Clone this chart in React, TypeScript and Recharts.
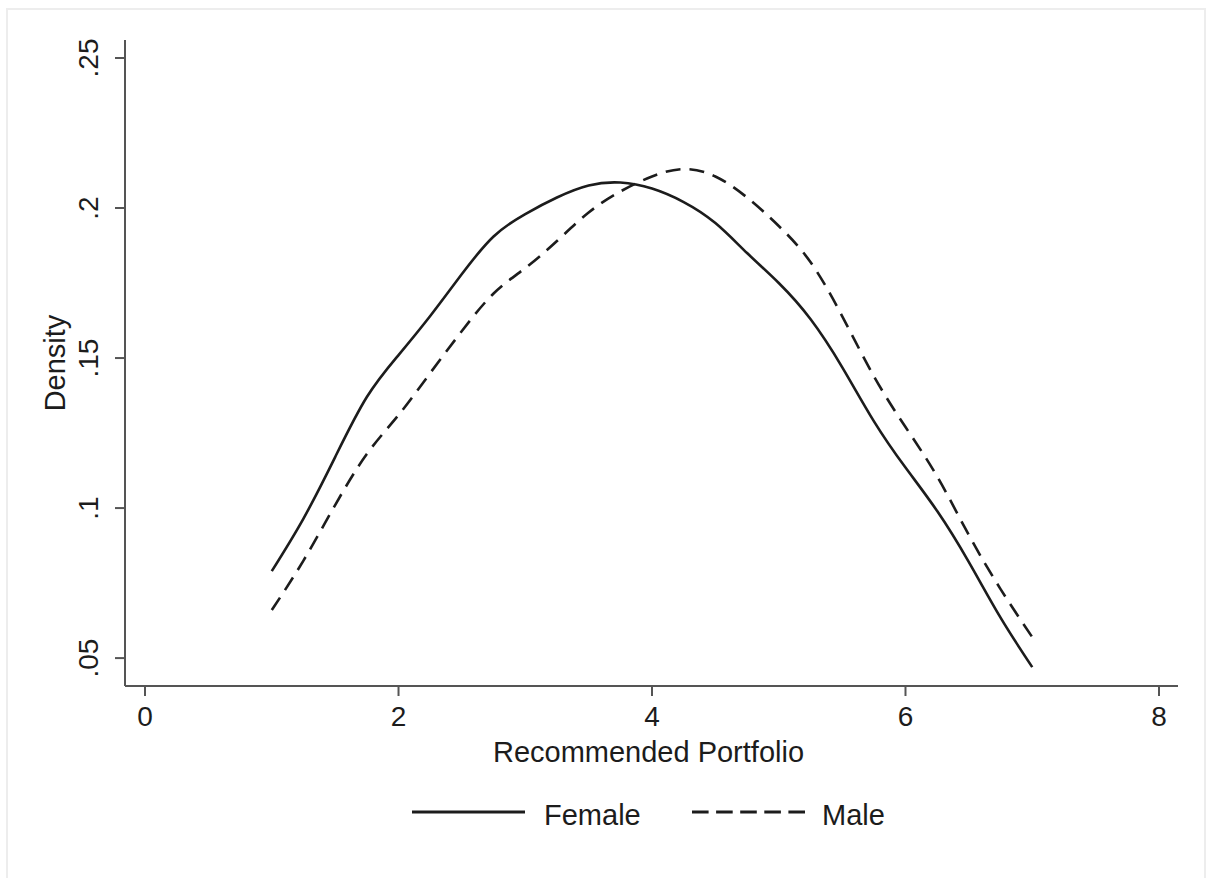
import React from 'react';
import { LineChart, Line, XAxis, YAxis, Legend, Label } from 'recharts';

const xValues = [1.0, 1.25, 1.5, 1.75, 2.0, 2.25, 2.5, 2.75, 3.0, 3.25, 3.5, 3.75, 4.0, 4.25, 4.5, 4.75, 5.0, 5.25, 5.5, 5.75, 6.0, 6.25, 6.5, 6.75, 7.0];
const femaleDensity = [0.079, 0.0965, 0.117, 0.137, 0.151, 0.164, 0.178, 0.1905, 0.198, 0.2035, 0.2075, 0.2085, 0.2065, 0.202, 0.195, 0.185, 0.175, 0.163, 0.147, 0.129, 0.1135, 0.099, 0.082, 0.0635, 0.047];
const maleDensity = [0.066, 0.0825, 0.101, 0.118, 0.131, 0.145, 0.159, 0.1715, 0.180, 0.189, 0.1985, 0.2055, 0.2105, 0.213, 0.2105, 0.2035, 0.194, 0.182, 0.164, 0.144, 0.127, 0.1105, 0.091, 0.073, 0.057];

const xTicks = [0, 2, 4, 6, 8];
const yTicks = [0.05, 0.1, 0.15, 0.2, 0.25];
const yTickLabels = ['.05', '.1', '.15', '.2', '.25'];
const seriesNames = ['Female', 'Male'];

const data = xValues.map((x, i) => ({ x, female: femaleDensity[i], male: maleDensity[i] }));

const FONT = '"Liberation Sans", Arial, Helvetica, sans-serif';
const INK = '#1c1c1c';
const AXIS = '#555555';

const XTick = (props: any) => {
  const { x, y, payload } = props;
  return (
    <text x={x} y={y + 30} textAnchor="middle" fontSize={28} fontFamily={FONT} fill={INK}>
      {payload.value}
    </text>
  );
};

const YTick = (props: any) => {
  const { y, payload } = props;
  const idx = yTicks.findIndex((t) => Math.abs(t - payload.value) < 1e-9);
  const label = idx >= 0 ? yTickLabels[idx] : String(payload.value);
  const cx = 89;
  return (
    <text
      x={cx}
      y={y}
      transform={`rotate(-90, ${cx}, ${y})`}
      textAnchor="middle"
      dominantBaseline="central"
      fontSize={28}
      fontFamily={FONT}
      fill={INK}
    >
      {label}
    </text>
  );
};

const renderLegend = () => (
  <svg width={1213} height={50} style={{ display: 'block' }}>
    <line x1={412} y1={22} x2={525} y2={22} stroke={INK} strokeWidth={3} />
    <text x={544} y={35} fontSize={29} fontFamily={FONT} fill={INK}>{seriesNames[0]}</text>
    <line x1={692} y1={22} x2={805} y2={22} stroke={INK} strokeWidth={3} strokeDasharray="16.6 7.5" />
    <text x={822} y={35} fontSize={29} fontFamily={FONT} fill={INK}>{seriesNames[1]}</text>
  </svg>
);

export default function App() {
  return (
    <div style={{ position: 'absolute', left: 0, top: 0, width: 1213, height: 878, background: '#ffffff', overflow: 'hidden' }}>
      <div style={{ position: 'absolute', left: 6, top: 8, width: 1200, height: 880, border: '2px solid #ededed', boxSizing: 'border-box' }} />
      <div style={{ position: 'absolute', left: 0, top: 0 }}>
        <LineChart width={1213} height={878} data={data} margin={{ top: 40, right: 35, bottom: 142, left: 0 }}>
          <XAxis
            dataKey="x"
            type="number"
            domain={[-0.158, 8.15]}
            ticks={xTicks}
            allowDataOverflow
            height={50}
            tickSize={10}
            tickMargin={0}
            stroke={AXIS}
            strokeWidth={2}
            tick={<XTick />}
            interval={0}
          >
            <Label
              content={(p: any) => {
                const vb = p.viewBox;
                return (
                  <text x={vb.x + vb.width / 2 - 3} y={762} textAnchor="middle" fontSize={29} fontFamily={FONT} fill={INK}>
                    Recommended Portfolio
                  </text>
                );
              }}
            />
          </XAxis>
          <YAxis
            type="number"
            domain={[0.0407, 0.256]}
            ticks={yTicks}
            allowDataOverflow
            width={125}
            tickSize={10}
            stroke={AXIS}
            strokeWidth={2}
            tick={<YTick />}
            interval={0}
          >
            <Label
              content={(p: any) => {
                const vb = p.viewBox;
                const cy = vb.y + vb.height / 2;
                return (
                  <text
                    x={55}
                    y={cy}
                    transform={`rotate(-90, 55, ${cy})`}
                    textAnchor="middle"
                    dominantBaseline="central"
                    fontSize={29}
                    fontFamily={FONT}
                    fill={INK}
                  >
                    Density
                  </text>
                );
              }}
            />
          </YAxis>
          <Legend
            layout="horizontal"
            align="center"
            verticalAlign="middle"
            content={renderLegend}
            wrapperStyle={{ position: 'absolute', left: 0, top: 790, width: 1213, height: 50 }}
          />
          <Line
            type="natural"
            dataKey="female"
            name={seriesNames[0]}
            stroke={INK}
            strokeWidth={2.6}
            dot={false}
            isAnimationActive={false}
          />
          <Line
            type="natural"
            dataKey="male"
            name={seriesNames[1]}
            stroke={INK}
            strokeWidth={2.6}
            strokeDasharray="15 9"
            dot={false}
            isAnimationActive={false}
          />
        </LineChart>
      </div>
    </div>
  );
}
